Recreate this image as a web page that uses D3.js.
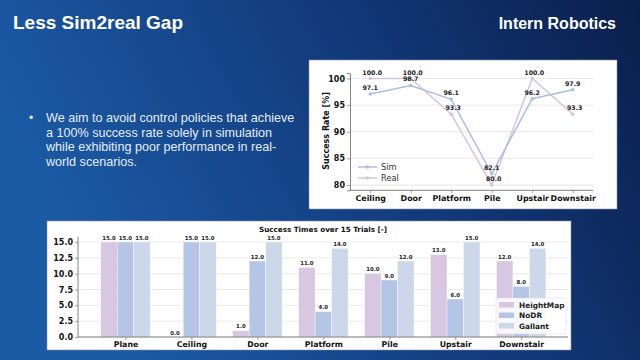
<!DOCTYPE html>
<html>
<head>
<meta charset="utf-8">
<script src="https://cdn.jsdelivr.net/npm/d3@7"></script>
<style>
  html, body { margin: 0; padding: 0; }
  body { width: 640px; height: 360px; overflow: hidden; }
  svg { display: block; }
</style>
</head>
<body>
<svg id="c" width="640" height="360"></svg>
<script>
// ---------- data ----------
const lineCategories = ["Ceiling", "Door", "Platform", "Pile", "Upstair", "Downstair"];
const simValues  = [97.1, 98.7, 96.1, 82.1, 96.2, 97.9];
const realValues = [100.0, 100.0, 93.3, 80.0, 100.0, 93.3];
const lineYTicks = [80, 85, 90, 95, 100];

const barCategories = ["Plane", "Ceiling", "Door", "Platform", "Pile", "Upstair", "Downstair"];
const heightMapValues = [15, 0, 1, 11, 10, 13, 12];
const noDRValues      = [15, 15, 12, 4, 9, 6, 8];
const gallantValues   = [15, 15, 15, 14, 12, 15, 14];
const barYTicks = [0, 2.5, 5, 7.5, 10, 12.5, 15];
const barSeriesNames = ["HeightMap", "NoDR", "Gallant"];

const bulletLines = [
  "We aim to avoid control policies that achieve",
  "a 100% success rate solely in simulation",
  "while exhibiting poor performance in real-",
  "world scenarios."
];

// ---------- styles ----------
const colSim = "#a9bde6", colReal = "#d6c3dd";
const barColors = ["#d8c7e0", "#b5c5e5", "#ccd7ea"];
const FONT = "'DejaVu Sans', sans-serif";

const svg = d3.select("#c");
const defs = svg.append("defs");
const grad = defs.append("linearGradient").attr("id", "bg")
  .attr("x1", "0%").attr("y1", "30%").attr("x2", "100%").attr("y2", "0%");
grad.append("stop").attr("offset", "0%").attr("stop-color", "#1b5aa5");
grad.append("stop").attr("offset", "55%").attr("stop-color", "#12397a");
grad.append("stop").attr("offset", "100%").attr("stop-color", "#0a1f4b");
svg.append("rect").attr("width", 640).attr("height", 360).attr("fill", "url(#bg)");

// header
svg.append("text").attr("x", 13).attr("y", 29)
  .attr("font-family", "'Liberation Sans', Arial, sans-serif").attr("font-weight", "bold")
  .attr("font-size", 19).attr("fill", "#fff").text("Less Sim2real Gap");
svg.append("text").attr("x", 616).attr("y", 29).attr("text-anchor", "end")
  .attr("font-family", "'Liberation Sans Narrow', 'Liberation Sans', Arial, sans-serif").attr("font-weight", "bold")
  .attr("font-size", 16).attr("fill", "#fff").text("Intern Robotics");

// bullet
svg.append("text").attr("x", 29).attr("y", 122).attr("font-family", "'Liberation Sans', Arial, sans-serif")
  .attr("font-size", 12).attr("fill", "#e6ecf6").text("•");
svg.append("g").selectAll("text").data(bulletLines).join("text")
  .attr("x", 46).attr("y", (d, i) => 122 + i * 14.5)
  .attr("font-family", "'Liberation Sans', Arial, sans-serif")
  .attr("font-size", 12.6).attr("fill", "#e6ecf6").text(d => d);

// ---------- line chart ----------
svg.append("rect").attr("x", 309).attr("y", 60).attr("width", 308).attr("height", 149)
  .attr("fill", "#fff").attr("stroke", "#8a8f99").attr("stroke-width", 0.6);

const lx = d3.scalePoint().domain(lineCategories).range([350, 593]).padding(0.5);
const ly = d3.scaleLinear().domain([79, 101]).range([190.3, 73.2]);

const lg = svg.append("g");
lg.selectAll("line.grid").data(lineYTicks).join("line")
  .attr("x1", 350).attr("x2", 593).attr("y1", d => ly(d)).attr("y2", d => ly(d))
  .attr("stroke", "#e3e3e3").attr("stroke-width", 0.8);

const lyAxis = lg.append("g").attr("transform", "translate(350,0)")
  .call(d3.axisLeft(ly).tickValues(lineYTicks).tickSize(3).tickPadding(2).tickFormat(d3.format("d")));
const lxAxis = lg.append("g").attr("transform", "translate(0,190.3)")
  .call(d3.axisBottom(lx).tickSize(3).tickPadding(2));
[lyAxis, lxAxis].forEach(a => {
  a.select(".domain").attr("stroke", "#666").attr("stroke-width", 0.8);
  a.selectAll(".tick line").attr("stroke", "#666").attr("stroke-width", 0.6);
  a.selectAll("text").attr("font-family", FONT).attr("font-weight", "bold").attr("fill", "#111");
});
lyAxis.selectAll("text").attr("font-size", 8);
lxAxis.selectAll("text").attr("font-size", 7.9);
lxAxis.select(".domain").attr("d", "M350,0H593");

lg.append("text").attr("transform", "translate(329,131) rotate(-90)")
  .attr("text-anchor", "middle").attr("font-family", FONT).attr("font-weight", "bold")
  .attr("font-size", 8).attr("fill", "#111").text("Success Rate [%]");

const lineGen = d3.line().x((d, i) => lx(lineCategories[i])).y(d => ly(d));
[[realValues, colReal], [simValues, colSim]].forEach(([vals, col]) => {
  lg.append("path").datum(vals).attr("d", lineGen).attr("fill", "none")
    .attr("stroke", col).attr("stroke-width", 1.5);
  lg.selectAll(null).data(vals).join("circle")
    .attr("cx", (d, i) => lx(lineCategories[i])).attr("cy", d => ly(d)).attr("r", 1.8).attr("fill", col);
});
[[simValues, 0], [realValues, 2]].forEach(([vals, dx]) => {
  lg.selectAll(null).data(vals).join("text")
    .attr("x", (d, i) => lx(lineCategories[i]) + dx).attr("y", d => ly(d) - 4)
    .attr("text-anchor", "middle").attr("font-family", FONT).attr("font-weight", "bold")
    .attr("font-size", 6.3).attr("fill", "#222").text(d => d.toFixed(1));
});
// legend
[["Sim", colSim, 167], ["Real", colReal, 178]].forEach(([name, col, y]) => {
  lg.append("line").attr("x1", 358).attr("x2", 377).attr("y1", y).attr("y2", y)
    .attr("stroke", col).attr("stroke-width", 1.5);
  lg.append("circle").attr("cx", 367.5).attr("cy", y).attr("r", 1.8).attr("fill", col);
  lg.append("text").attr("x", 381).attr("y", y + 3).attr("font-family", FONT)
    .attr("font-size", 8.3).attr("fill", "#333").text(name);
});

// ---------- bar chart ----------
svg.append("rect").attr("x", 47).attr("y", 221).attr("width", 524).attr("height", 129)
  .attr("fill", "#fff").attr("stroke", "#8a8f99").attr("stroke-width", 0.6);

const bx = d3.scaleLinear().domain([-0.72, 6.71]).range([78, 568]);
const by = d3.scaleLinear().domain([0, 15]).range([337, 242]);
const bg = svg.append("g");
bg.selectAll("line.grid").data(barYTicks).join("line")
  .attr("x1", 78).attr("x2", 568).attr("y1", d => by(d)).attr("y2", d => by(d))
  .attr("stroke", "#e3e3e3").attr("stroke-width", 0.8);

const series = [heightMapValues, noDRValues, gallantValues];
const bw = 0.25;
series.forEach((vals, s) => {
  const off = (s - 1) * bw;
  bg.selectAll(null).data(vals).join("rect")
    .attr("x", (d, i) => bx(i + off - bw / 2))
    .attr("width", bx(bw) - bx(0))
    .attr("y", d => by(d)).attr("height", d => by(0) - by(d))
    .attr("fill", barColors[s]).attr("stroke", "#fff").attr("stroke-width", 0.4);
  bg.selectAll(null).data(vals).join("text")
    .attr("x", (d, i) => bx(i + off)).attr("y", d => by(d) - 2.5)
    .attr("text-anchor", "middle").attr("font-family", FONT).attr("font-weight", "bold")
    .attr("font-size", 5.4).attr("fill", "#222").text(d => d.toFixed(1));
});

const byAxis = bg.append("g").attr("transform", "translate(78,0)")
  .call(d3.axisLeft(by).tickValues(barYTicks).tickSize(3).tickPadding(2).tickFormat(d3.format(".1f")));
const bxAxis = bg.append("g").attr("transform", "translate(0,337)")
  .call(d3.axisBottom(bx).tickValues(barCategories.map((d, i) => i)).tickSize(3).tickPadding(1)
    .tickFormat(i => barCategories[i]));
[byAxis, bxAxis].forEach(a => {
  a.select(".domain").attr("stroke", "#666").attr("stroke-width", 0.8);
  a.selectAll(".tick line").attr("stroke", "#666").attr("stroke-width", 0.6);
  a.selectAll("text").attr("font-family", FONT).attr("font-weight", "bold").attr("fill", "#111");
});
byAxis.selectAll("text").attr("font-size", 8);
bxAxis.selectAll("text").attr("font-size", 7.8);
bxAxis.select(".domain").attr("d", "M78,0H568");
byAxis.select(".domain").attr("d", "M0,337V237");

bg.append("text").attr("x", 323).attr("y", 232).attr("text-anchor", "middle")
  .attr("font-family", FONT).attr("font-weight", "bold").attr("font-size", 7.2)
  .attr("fill", "#111").text("Success Times over 15 Trials [-]");

// legend
bg.append("rect").attr("x", 496).attr("y", 298).attr("width", 70).attr("height", 36)
  .attr("rx", 2).attr("fill", "#fff").attr("fill-opacity", 0.85).attr("stroke", "#ddd").attr("stroke-width", 0.6);
barSeriesNames.forEach((name, s) => {
  const y = 305 + s * 10.5;
  bg.append("rect").attr("x", 499).attr("y", y - 3).attr("width", 15).attr("height", 5.5).attr("fill", barColors[s]);
  bg.append("text").attr("x", 519).attr("y", y + 2.8).attr("font-family", FONT).attr("font-weight", "bold")
    .attr("font-size", 7.4).attr("fill", "#222").text(name);
});
</script>
</body>
</html>
